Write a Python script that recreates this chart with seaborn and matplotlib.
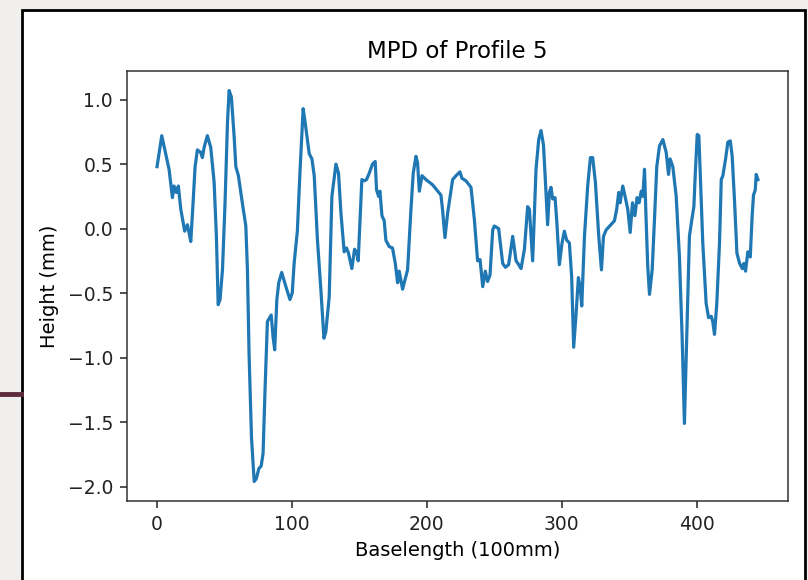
import matplotlib
matplotlib.use("Agg")
import matplotlib.pyplot as plt
from matplotlib.patches import Rectangle
from matplotlib.lines import Line2D
import seaborn as sns
import pandas as pd

# profile trace (baselength position, height in mm)
baselength = [
    0, 3.5, 8.9, 11.4, 12.6, 14.3, 15.8, 17.6, 20.5, 22.5, 23.7, 25.0, 26.7, 28.2, 29.9,
    32.4, 33.6, 34.9, 37.3, 39.8, 42.3, 44.0, 45.3, 46.7, 48.5, 50.4, 52.2, 53.4, 55.1,
    57.1, 58.4, 60.3, 63.2, 65.8, 67.0, 68.2, 70.0, 72.0, 73.5, 75.5, 77.2, 78.6, 80.1,
    81.8, 84.6, 86.0, 87.2, 88.8, 90.2, 92.4, 95.5, 98.5, 100.2, 101.6, 104.0, 105.9,
    108.3, 109.8, 112.8, 114.8, 116.5, 118.9, 121.4, 123.7, 125.1, 127.6, 129.6, 132.6,
    134.5, 136.3, 138.7, 140.4, 141.9, 144.4, 146.4, 148.1, 149.1, 150.6, 151.8, 153.6,
    155.3, 157.3, 159.7, 161.7, 162.7, 164.2, 165.2, 166.7, 168.4, 169.6, 172.1, 174.5,
    176.6, 178.3, 179.5, 182.0, 183.2, 185.7, 188.2, 189.9, 191.9, 193.1, 194.4, 196.4,
    199.3, 204.2, 210.4, 211.6, 213.4, 215.4, 219.1, 221.6, 224.5, 226.0, 229.0, 232.7,
    235.2, 237.6, 239.4, 241.4, 243.3, 245.0, 246.8, 248.8, 250.0, 253.2, 256.2, 258.2,
    260.6, 263.6, 266.1, 268.1, 269.8, 272.3, 274.7, 276.0, 278.4, 280.9, 282.9, 284.6,
    286.4, 287.8, 289.5, 290.8, 292.0, 293.2, 295.0, 296.2, 298.2, 300.2, 301.9, 303.6,
    305.6, 307.3, 308.8, 310.6, 312.3, 313.6, 314.8, 316.8, 319.2, 321.2, 322.9, 324.9,
    327.4, 329.4, 330.9, 332.9, 339.0, 340.7, 342.2, 343.2, 345.2, 346.9, 348.9, 350.7,
    352.4, 354.2, 355.8, 357.3, 358.9, 360.1, 361.3, 362.5, 363.7, 365.0, 367.0, 368.7,
    370.4, 372.4, 374.9, 377.4, 379.1, 380.3, 382.3, 384.8, 387.2, 389.2, 390.9, 392.6,
    394.6, 396.4, 397.9, 399.1, 400.4, 401.6, 402.8, 404.5, 407.0, 408.8, 410.8, 411.9,
    413.2, 414.9, 416.9, 418.2, 419.4, 421.4, 423.1, 424.9, 426.3, 428.1, 429.8, 431.8,
    433.8, 435.0, 436.2, 437.9, 439.7, 441.1, 442.1, 443.4, 444.1, 445.4,
]
height = [
    0.48, 0.72, 0.46, 0.24, 0.33, 0.28, 0.33, 0.15, -0.02, 0.03, -0.03, -0.10, 0.20, 0.48, 0.61,
    0.59, 0.55, 0.63, 0.72, 0.63, 0.36, -0.06, -0.59, -0.55, -0.32, 0.20, 0.82, 1.07, 1.02,
    0.72, 0.48, 0.41, 0.20, 0.02, -0.32, -0.97, -1.62, -1.96, -1.94, -1.86, -1.84, -1.74, -1.23,
    -0.72, -0.67, -0.84, -0.94, -0.55, -0.42, -0.34, -0.45, -0.55, -0.50, -0.27, -0.02, 0.43,
    0.93, 0.82, 0.58, 0.54, 0.41, -0.09, -0.47, -0.85, -0.80, -0.53, 0.25, 0.50,
    0.43, 0.12, -0.18, -0.15, -0.19, -0.31, -0.16, -0.19, -0.25, 0.10, 0.38, 0.37,
    0.38, 0.43, 0.50, 0.52, 0.30, 0.25, 0.29, 0.10, 0.06, -0.09, -0.14, -0.15,
    -0.27, -0.42, -0.33, -0.47, -0.42, -0.32, 0.15, 0.43, 0.56, 0.51, 0.29, 0.41,
    0.38, 0.34, 0.26, 0.15, -0.07, 0.12, 0.38, 0.41, 0.44, 0.39, 0.37, 0.32,
    0.07, -0.25, -0.24, -0.45, -0.33, -0.41, -0.36, -0.01, 0.02, 0.00, -0.27, -0.30,
    -0.28, -0.06, -0.25, -0.28, -0.31, -0.16, 0.17, 0.15, -0.25, 0.46, 0.69, 0.76,
    0.65, 0.38, 0.03, 0.28, 0.32, 0.23, 0.24, 0.07, -0.28, -0.11, -0.02, -0.09,
    -0.11, -0.37, -0.92, -0.66, -0.38, -0.45, -0.60, -0.06, 0.33, 0.55, 0.55, 0.36,
    -0.06, -0.32, -0.06, -0.01, 0.06, 0.15, 0.28, 0.20, 0.33, 0.25, 0.15, -0.03,
    0.20, 0.10, 0.24, 0.20, 0.29, 0.25, 0.46, 0.07, -0.29, -0.51, -0.32, 0.07,
    0.48, 0.64, 0.69, 0.59, 0.42, 0.54, 0.48, 0.25, -0.22, -0.84, -1.51, -0.84,
    -0.06, 0.07, 0.17, 0.46, 0.73, 0.72, 0.38, -0.11, -0.58, -0.69, -0.68, -0.72,
    -0.82, -0.58, -0.11, 0.38, 0.41, 0.54, 0.67, 0.68, 0.56, 0.20, -0.19, -0.27,
    -0.31, -0.27, -0.33, -0.18, -0.22, 0.10, 0.26, 0.30, 0.42, 0.38,
]

profile_df = pd.DataFrame({"Baselength": baselength, "Height": height})

fig = plt.figure(figsize=(8.08, 5.8), dpi=100, facecolor="#f0efed")

# white screenshot frame with dark border (runs off the bottom), plus the stray line on the left
fig.patches.append(Rectangle((22 / 808, -0.02), 783 / 808, 1.02 - 10 / 580, transform=fig.transFigure,
                             facecolor="white", edgecolor="black", linewidth=2.0, zorder=-10))
fig.lines.append(Line2D([0, 21 / 808], [1 - 394 / 580, 1 - 394 / 580], transform=fig.transFigure,
                        color="#5c2c3c", linewidth=3.5, zorder=-5))

ax = fig.add_axes([127 / 808, 1 - 501 / 580, 661 / 808, 430 / 580])
ax.set_facecolor("white")
sns.lineplot(data=profile_df, x="Baselength", y="Height", ax=ax,
             color="#1f77b4", linewidth=2.3, estimator=None)

ax.set_title("MPD of Profile 5", fontsize=16.5, pad=9)
ax.set_xlabel("Baselength (100mm)", fontsize=14, labelpad=5)
ax.set_ylabel("Height (mm)", fontsize=14, labelpad=6)
ax.tick_params(labelsize=13.5, length=5, width=1.1, pad=5, colors="#222222")
for s in ax.spines.values():
    s.set_linewidth(1.1)
    s.set_color("#333333")

fig.savefig("out.png", dpi=100, facecolor=fig.get_facecolor())
